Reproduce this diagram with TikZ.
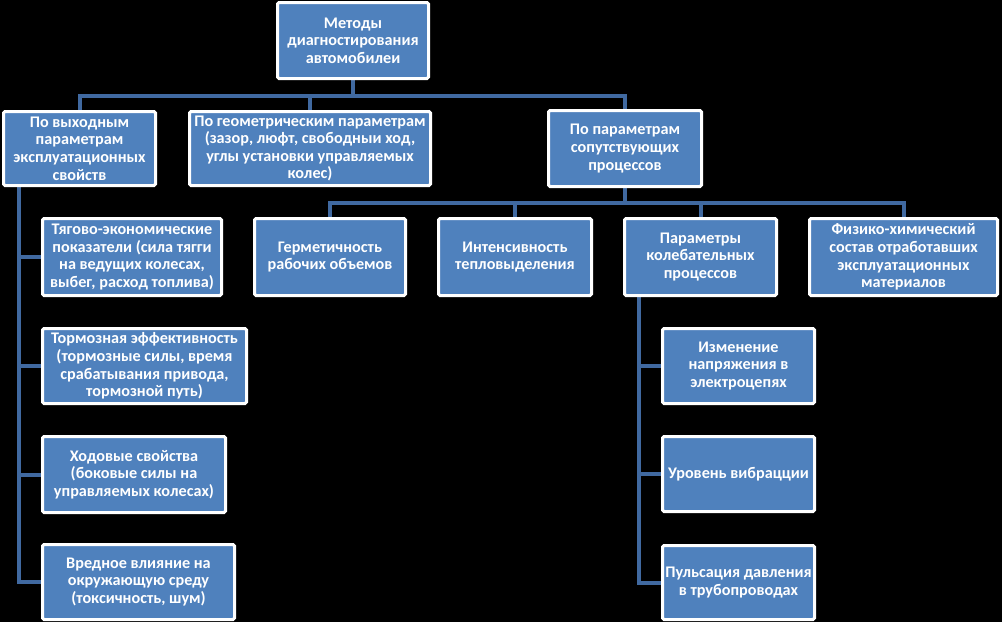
\documentclass[tikz,border=0pt]{standalone}
\usepackage{fontspec}
\setmainfont{Carlito}
\usetikzlibrary{backgrounds}
\definecolor{boxblue}{RGB}{79,129,189}
\definecolor{linkblue}{RGB}{64,105,160}
\begin{document}
\begin{tikzpicture}[x=1pt,y=-1pt,
  box/.style={draw=white, line width=3pt, fill=boxblue, rounded corners=1.5pt,
    text=white, align=center, inner sep=0pt,
    font=\fontsize{16.2}{17.6}\selectfont\bfseries},
  conn/.style={draw=linkblue, line width=4pt}]
\useasboundingbox (0,0) rectangle (1002,622);
% top
\node[box, minimum width=151, minimum height=76] (top) at (353,40.5)
  {Методы\\диагностирования\\автомобилеи};
% level 1
\node[box, minimum width=152, minimum height=74] (A) at (79.5,148.5)
  {По выходным\\параметрам\\эксплуатационных\\свойств};
\node[box, minimum width=241, minimum height=74] (B) at (310,148.5)
  {По геометрическим параметрам\\(зазор, люфт, свободныи ход,\\углы установки управляемых\\колес)};
\node[box, minimum width=153, minimum height=76] (C) at (625,148.5)
  {По параметрам\\сопутствующих\\процессов};
% level 2
\node[box, minimum width=151, minimum height=77] (G) at (330,257)
  {Герметичность\\рабочих объемов};
\node[box, minimum width=153, minimum height=77] (I) at (515,257)
  {Интенсивность\\тепловыделения};
\node[box, minimum width=152, minimum height=77] (P) at (700.5,257)
  {Параметры\\колебательных\\процессов};
\node[box, minimum width=188, minimum height=77] (F) at (903.5,257)
  {Физико-химический\\состав отработавших\\эксплуатационных\\материалов};
% left column
\node[box, minimum width=179, minimum height=77] (L1) at (132,257)
  {Тягово-экономические\\показатели (сила тягги\\на ведущих колесах,\\выбег, расход топлива)};
\node[box, minimum width=204, minimum height=75] (L2) at (144.5,366)
  {Тормозная эффективность\\(тормозные силы, время\\срабатывания привода,\\тормозной путь)};
\node[box, minimum width=183, minimum height=76] (L3) at (134,474.5)
  {Ходовые свойства\\(боковые силы на\\управляемых колесах)};
\node[box, minimum width=192, minimum height=75] (L4) at (138.5,582)
  {Вредное влияние на\\окружающую среду\\(токсичность, шум)};
% right column
\node[box, minimum width=152, minimum height=75] (R1) at (738.5,366)
  {Изменение\\напряжения в\\электроцепях};
\node[box, minimum width=152, minimum height=75] (R2) at (738.5,474)
  {Уровень вибрацции};
\node[box, minimum width=152, minimum height=74] (R3) at (738.5,582.5)
  {Пульсация давления\\в трубопроводах};
% bus coordinates
\coordinate (bus1) at (353,96);
\coordinate (bus2) at (625,203);
\coordinate (lcol) at (19,0);
\coordinate (rcol) at (639,0);
\begin{scope}[on background layer]
\fill[black] (0,0) rectangle (1002,622);
\draw[conn] (top.south) -- (bus1);
\draw[conn] (A.north) |- (bus1) -| (C.north);
\draw[conn] (B.north) -- (B.north |- bus1);
\draw[conn] (C.south) -- (bus2);
\draw[conn] (G.north) |- (bus2) -| (F.north);
\draw[conn] (I.north) -- (I.north |- bus2);
\draw[conn] (P.north) -- (P.north |- bus2);
\draw[conn] (A.south -| lcol) |- (L4.west);
\draw[conn] (L1.west -| lcol) -- (L1.west);
\draw[conn] (L2.west -| lcol) -- (L2.west);
\draw[conn] (L3.west -| lcol) -- (L3.west);
\draw[conn] (P.south -| rcol) |- (R3.west);
\draw[conn] (R1.west -| rcol) -- (R1.west);
\draw[conn] (R2.west -| rcol) -- (R2.west);
\end{scope}
\end{tikzpicture}
\end{document}
